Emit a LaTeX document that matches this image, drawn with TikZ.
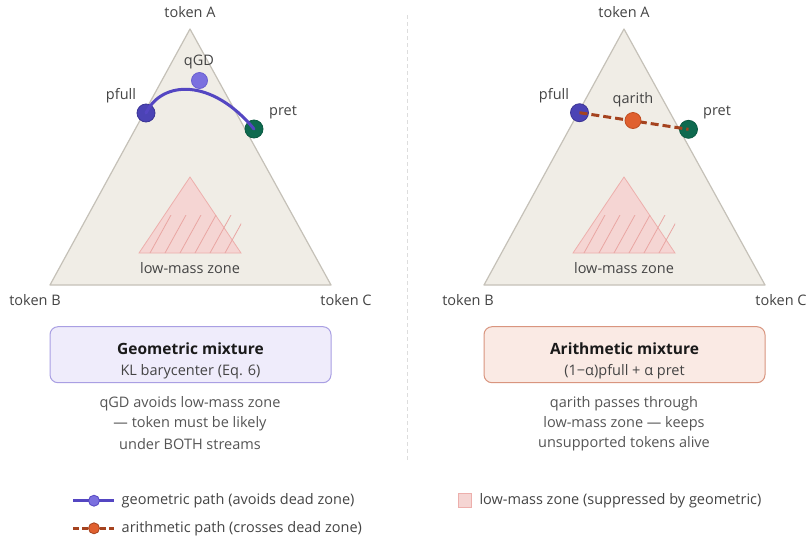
\documentclass[tikz,border=0pt]{standalone}
\usepackage{fontspec}
\setmainfont{Open Sans}
\definecolor{simplexfill}{HTML}{F0EDE6}
\definecolor{simplexedge}{HTML}{C5C1B8}
\definecolor{zonefill}{HTML}{F5D5D3}
\definecolor{zoneedge}{HTML}{EDAFAC}
\definecolor{zonehatch}{HTML}{E9A6A3}
\definecolor{geoc}{HTML}{5446C2}
\definecolor{pfullc}{HTML}{4B43B5}
\definecolor{pfulle}{HTML}{3B3494}
\definecolor{qgdc}{HTML}{7B70DF}
\definecolor{qgde}{HTML}{6A60D0}
\definecolor{pretc}{HTML}{0E6A4F}
\definecolor{prete}{HTML}{0B5A42}
\definecolor{arithc}{HTML}{A5431F}
\definecolor{qarc}{HTML}{E0602F}
\definecolor{qare}{HTML}{C04E22}
\definecolor{boxLf}{HTML}{EFECFB}
\definecolor{boxLd}{HTML}{A99FE3}
\definecolor{boxRf}{HTML}{FAEAE4}
\definecolor{boxRd}{HTML}{D9957F}
\definecolor{labelc}{HTML}{444444}
\definecolor{titlec}{HTML}{1A1A1A}
\definecolor{descc}{HTML}{555555}
\definecolor{divc}{HTML}{DDDDDD}
\begin{document}
\begin{tikzpicture}[x=1pt,y=-1pt,
  font=\fontsize{14.5}{18}\selectfont,
  simplex/.style={fill=simplexfill,draw=simplexedge,line width=1.2pt,line join=round},
  zone/.style={fill=zonefill,draw=zoneedge,line width=0.8pt},
  hatch/.style={draw=zonehatch,line width=0.8pt},
  lbl/.style={text=labelc,inner sep=0pt},
  desc/.style={text=descc,inner sep=0pt},
  ptdot/.style={circle,inner sep=0pt,minimum size=#1,line width=0.8pt},
  geoline/.style={draw=geoc,line width=3pt,line cap=round},
  arline/.style={draw=arithc,line width=3pt,dash pattern=on 8pt off 4pt},
  mixbox/.style={rounded corners=8pt,minimum width=281pt,minimum height=56pt,line width=1pt,inner sep=0pt},
  titletext/.style={text=titlec,inner sep=0pt,font=\fontsize{15.5}{18}\selectfont\bfseries},
]
\useasboundingbox (0,0) rectangle (807,542);
\fill[white] (0,0) rectangle (807,542);

% divider
\coordinate (dtop) at (407,15);
\coordinate (dbot) at (407,462);
\draw[divc,line width=1pt,dash pattern=on 4pt off 3pt] (dtop) -- (dbot);

% ================= LEFT PANEL =================
\draw[simplex] (190,29) -- (50,285) -- (331,285) -- cycle;
\draw[zone] (190,177) -- (139,253) -- (241,253) -- cycle;
\begin{scope}
  \clip (139,215) rectangle (241,253);
  \foreach \k in {0,...,5} \draw[hatch] (150+15*\k,253) -- ++(21,-38);
\end{scope}
\node[lbl] (lzone) at (190,268) {low-mass zone};
\node[lbl] (lA) at (190,12) {token A};
\node[lbl] (lB) at (35,300) {token B};
\node[lbl] (lC) at (346,300) {token C};

\node[ptdot=18pt,fill=pfullc,draw=pfulle] (lpfull) at (146,113) {};
\node[ptdot=18pt,fill=pretc,draw=prete] (lpret) at (254,129) {};
\node[ptdot=16pt,fill=qgdc,draw=qgde] (lqgd) at (199.5,80.5) {};
\draw[geoline] (lpfull.center) .. controls (162,80) and (212,78) .. (lpret.center);
\node[lbl] (lpfullt) at (121,96) {pfull};
\node[lbl] (lqgdt) at (199,62) {qGD};
\node[lbl] (lprett) at (283,112) {pret};

\node[mixbox,fill=boxLf,draw=boxLd] (boxL) at (190.5,354.7) {};
\node[titletext] (boxLt) at (190.5,349) {Geometric mixture};
\node[lbl] (boxLs) at (190.5,372) {KL barycenter (Eq. 6)};
\node[desc] (dL1) at (190,403.5) {qGD avoids low-mass zone};
\node[desc] (dL2) at (190,424) {— token must be likely};
\node[desc] (dL3) at (190,444) {under BOTH streams};

% ================= RIGHT PANEL =================
\draw[simplex] (624,29) -- (484,285) -- (765,285) -- cycle;
\draw[zone] (624,177) -- (573,253) -- (675,253) -- cycle;
\begin{scope}
  \clip (573,215) rectangle (675,253);
  \foreach \k in {0,...,5} \draw[hatch] (584+15*\k,253) -- ++(21,-38);
\end{scope}
\node[lbl] (rzone) at (624,268) {low-mass zone};
\node[lbl] (rA) at (624,12) {token A};
\node[lbl] (rB) at (468,300) {token B};
\node[lbl] (rC) at (781,300) {token C};

\node[ptdot=18pt,fill=pfullc,draw=pfulle] (rpfull) at (579.5,112.7) {};
\node[ptdot=18pt,fill=pretc,draw=prete] (rpret) at (688.5,129.3) {};
\draw[arline] (rpfull.center) -- (rpret.center);
\node[ptdot=16pt,fill=qarc,draw=qare] (rqar) at (633,120.5) {};
\node[lbl] (rpfullt) at (554,96) {pfull};
\node[lbl] (rqart) at (633,100) {qarith};
\node[lbl] (rprett) at (717,112) {pret};

\node[mixbox,fill=boxRf,draw=boxRd] (boxR) at (624.5,354.7) {};
\node[titletext] (boxRt) at (624.5,349) {Arithmetic mixture};
\node[lbl] (boxRs) at (624.5,372) {(1−α)pfull + α pret};
\node[desc] (dR1) at (624,403.5) {qarith passes through};
\node[desc] (dR2) at (624,424) {low-mass zone — keeps};
\node[desc] (dR3) at (624,444) {unsupported tokens alive};

% ================= LEGEND =================
\coordinate (lg1a) at (73,500.7);
\coordinate (lg1b) at (114,500.7);
\draw[draw=geoc,line width=3pt] (lg1a) -- (lg1b);
\node[ptdot=11pt,fill=qgdc,draw=geoc] (lg1d) at (94,500.7) {};
\node[lbl,anchor=west] (lg1t) at (121.5,500.7) {geometric path (avoids dead zone)};

\coordinate (lg2a) at (73,528.3);
\coordinate (lg2b) at (114,528.3);
\draw[draw=arithc,line width=3pt,dash pattern=on 6pt off 3pt] (lg2a) -- (lg2b);
\node[ptdot=11pt,fill=qarc,draw=arithc] (lg2d) at (94,528.3) {};
\node[lbl,anchor=west] (lg2t) at (121.5,528.3) {arithmetic path (crosses dead zone)};

\node[draw=zoneedge,fill=zonefill,line width=1pt,minimum width=13pt,minimum height=14pt,inner sep=0pt] (lg3s) at (465,500.5) {};
\node[lbl,anchor=west] (lg3t) at (479.3,500.7) {low-mass zone (suppressed by geometric)};
\end{tikzpicture}
\end{document}
